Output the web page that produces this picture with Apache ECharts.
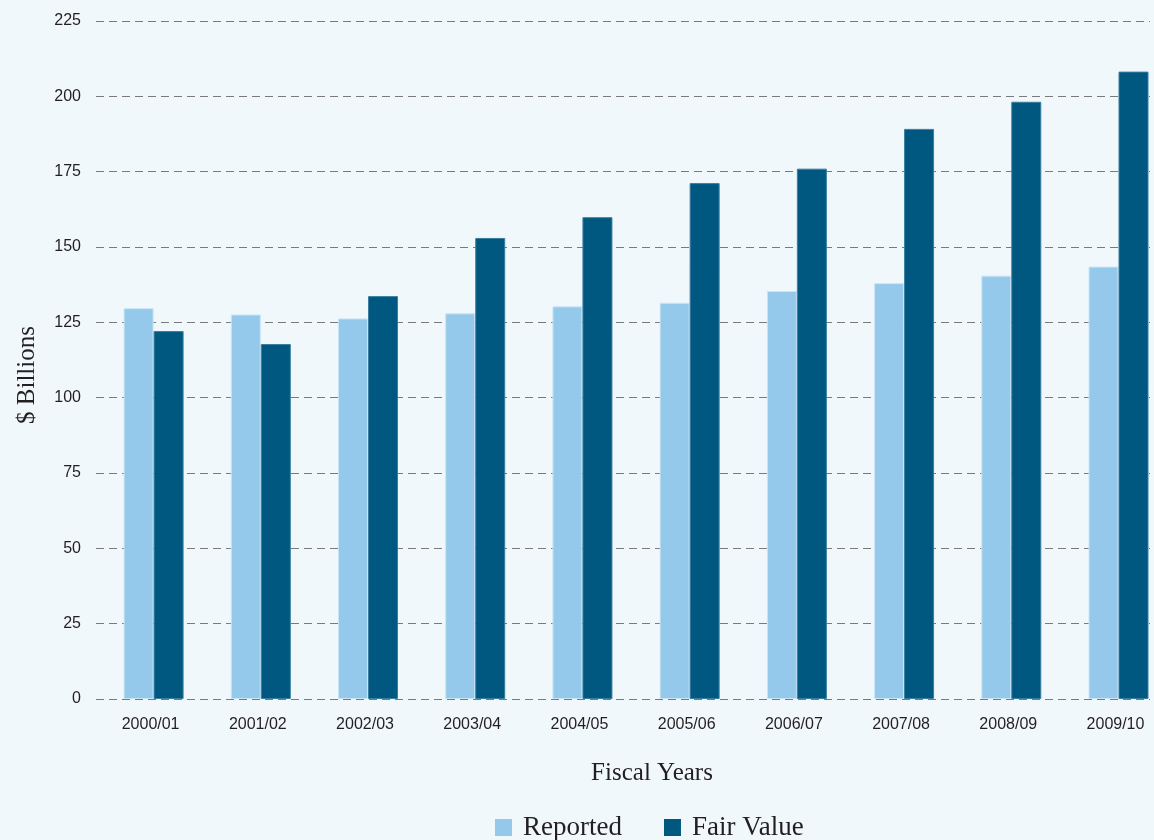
<!DOCTYPE html>
<html>
<head>
<meta charset="utf-8">
<script src="https://cdn.jsdelivr.net/npm/echarts@6/dist/echarts.min.js"></script>
<style>
  html, body { margin: 0; padding: 0; background: #f1f8fc; }
  #chart { width: 1154px; height: 840px; }
</style>
</head>
<body>
<div id="chart"></div>
<script>
const categories = ['2000/01', '2001/02', '2002/03', '2003/04', '2004/05', '2005/06', '2006/07', '2007/08', '2008/09', '2009/10'];
const reported = [129.7, 127.6, 126.3, 128.0, 130.3, 131.5, 135.4, 138.0, 140.5, 143.5];
const fairValue = [122.1, 117.8, 133.7, 153.0, 159.9, 171.2, 176.0, 189.2, 198.2, 208.2];
const seriesNames = ['Reported', 'Fair Value'];
const yMin = 0, yMax = 225, yStep = 25;
const yTitle = '$ Billions';
const xTitle = 'Fiscal Years';

const chart = echarts.init(document.getElementById('chart'));
const serif = '"Liberation Serif", "DejaVu Serif", serif';
const sans = '"Liberation Sans", Arial, sans-serif';
const ink = '#231f20';

chart.setOption({
  backgroundColor: '#f1f8fc',
  animation: false,
  grid: [
    { left: 96, right: 4, top: 21, bottom: 141 },
    { left: 153.6, right: 35.5, top: 21, bottom: 141 }
  ],
  xAxis: [
    { type: 'category', gridIndex: 0, data: categories, show: false },
    {
      type: 'category', gridIndex: 1, data: categories, boundaryGap: false,
      axisLine: { show: false }, axisTick: { show: false },
      axisLabel: { margin: 18, fontSize: 16, color: ink, fontFamily: sans, padding: [0, 6, 0, 0] }
    }
  ],
  yAxis: [
    {
      type: 'value', gridIndex: 0, min: yMin, max: yMax, interval: yStep,
      axisLine: { show: false }, axisTick: { show: false },
      axisLabel: { margin: 15, fontSize: 16, color: ink, fontFamily: sans },
      splitLine: { show: true, lineStyle: { type: [8, 5], color: '#7a7a7a', width: 1 } }
    },
    {
      type: 'value', gridIndex: 1, min: yMin, max: yMax, interval: yStep,
      show: false, splitLine: { show: false }
    }
  ],
  legend: {
    data: seriesNames,
    left: 495, top: 814, padding: 0,
    icon: 'rect', itemWidth: 17, itemHeight: 17, itemGap: 42,
    itemStyle: { borderWidth: 0 },
    textStyle: { fontSize: 27, fontFamily: serif, color: ink, padding: [0, 0, 0, 6] }
  },
  series: [
    {
      name: seriesNames[0], type: 'bar', xAxisIndex: 1, yAxisIndex: 1,
      data: reported, barWidth: 30, barGap: '0%',
      itemStyle: { color: '#95c9ec', borderColor: '#c9e5f7', borderWidth: 1 }
    },
    {
      name: seriesNames[1], type: 'bar', xAxisIndex: 1, yAxisIndex: 1,
      data: fairValue, barWidth: 30, barGap: '0%',
      itemStyle: { color: '#005880', borderColor: '#3a7ea0', borderWidth: 1 }
    }
  ],
  graphic: [
    {
      type: 'text', x: 27, y: 375, rotation: Math.PI / 2,
      style: { text: yTitle, font: '25px ' + serif, fill: ink, textAlign: 'center', textVerticalAlign: 'middle' }
    },
    {
      type: 'text', x: 652, y: 773,
      style: { text: xTitle, font: '25px ' + serif, fill: ink, textAlign: 'center', textVerticalAlign: 'middle' }
    }
  ]
});
</script>
</body>
</html>
